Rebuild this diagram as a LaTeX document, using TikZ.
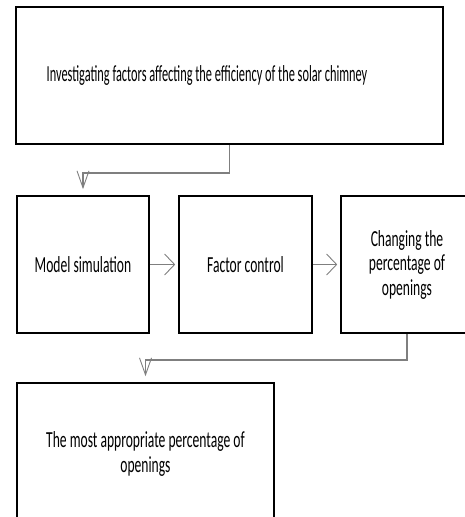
\documentclass[tikz,border=0pt]{standalone}
\usepackage{fontspec}
\setmainfont{Carlito}[FakeStretch=0.59]
\newfontfamily\narrowfont{Carlito}[FakeStretch=0.536]
\usetikzlibrary{arrows.meta}
\definecolor{flowLine}{HTML}{7F7F7F}
\tikzset{
  flowfig/.style={
    x=1bp, y=-1bp,
    every node/.append style={font=\fontsize{23bp}{24.5bp}\selectfont},
  },
  stepbox/.style={
    draw=black, line width=1.6bp, align=center, inner sep=0pt,
    minimum width=132bp, minimum height=137bp,
  },
  flow/.style={draw=flowLine, line width=1.6bp},
  % the picture is squeezed sideways, so the tips differ
  flowh/.style={flow, -{Straight Barb[length=10bp, width=21bp, line width=0.9bp]}, shorten >=3bp},
  flowv/.style={flow, -{Straight Barb[length=17bp, width=12bp, line width=0.9bp]}, shorten >=6bp},
}
\begin{document}
\begin{tikzpicture}[flowfig]
  \useasboundingbox (0,0) rectangle (465,517);
  \clip (0,0) rectangle (465,517);
  % main question
  \node[stepbox, minimum width=427bp] (aim) at (229.5,75.5)
    {\narrowfont\hspace*{-45bp}Investigating factors affecting the efficiency of the solar chimney};
  % steps in a row
  \node[stepbox] (model) at (83,264.5) {Model simulation};
  \node[stepbox, minimum width=133bp] (factor) at (245.5,264.5) {Factor control};
  \node[stepbox] (opening) at (407,264.5) {Changing the\\percentage of\\openings};
  % result
  \node[stepbox, minimum width=257bp, minimum height=142bp] (best) at (145.5,454)
    {The most appropriate percentage of\\openings};
  \draw[flowv] (aim.south) -- ++(0,28) -| (model.north);
  \draw[flowh] (model) -- (factor);
  \draw[flowh] (factor) -- (opening);
  \draw[flowv] (opening.south) -- ++(0,26) -| (best.north);
\end{tikzpicture}
\end{document}
